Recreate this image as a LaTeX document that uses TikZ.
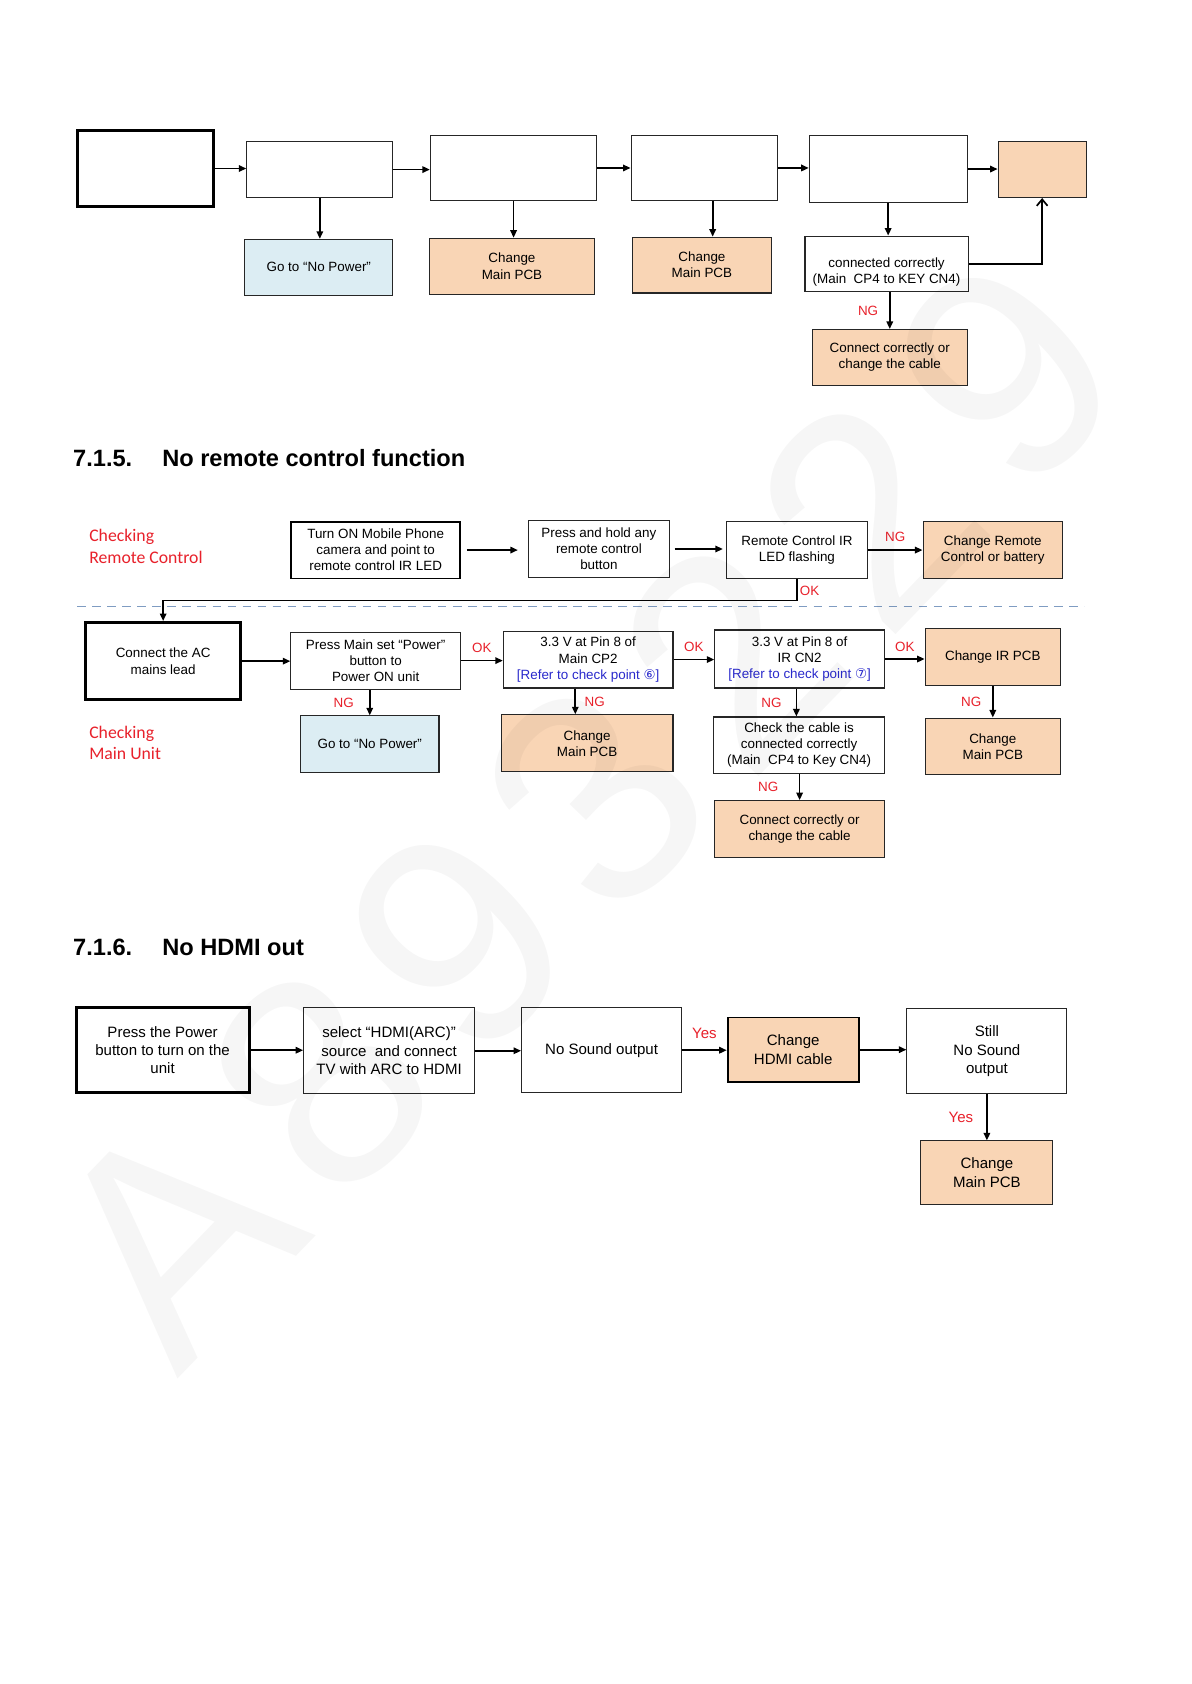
\documentclass[tikz,border=0pt]{standalone}
\usepackage{fontspec}
\setmainfont{Liberation Sans}
\newfontfamily\calfont{Carlito}
\newfontfamily\symfont{DejaVu Sans}
\newfontfamily\wmfont[LetterSpace=10]{Liberation Sans}
\usepackage{xcolor}
\usepackage{tikz}
\usetikzlibrary{arrows.meta, positioning}
\definecolor{peach}{HTML}{F9D5B5}
\definecolor{paleblue}{HTML}{DCEDF3}
\definecolor{tagred}{HTML}{E8212B}
\definecolor{refblue}{HTML}{2A2ACC}
\definecolor{sepblue}{HTML}{7F9CC2}
\newcommand{\flowfont}{\fontsize{12.5}{15}\selectfont}
\newcommand{\hdmifont}{\fontsize{14}{17}\selectfont}
\tikzstyle{box} = [rectangle, draw=black!85, line width=1pt, fill=white, align=center, inner sep=1pt, font=\flowfont]
\tikzstyle{heavybox} = [box, line width=2.8pt, draw=black]
\tikzstyle{midbox} = [box, line width=1.8pt, draw=black]
\tikzstyle{change} = [box, fill=peach]
\tikzstyle{goto} = [box, fill=paleblue]
\tikzstyle{plain} = [align=center, inner sep=0pt, font=\flowfont]
\tikzstyle{arrow} = [line width=1.6pt, -{Triangle[length=7pt,width=6pt]}]
\tikzstyle{tag} = [text=tagred, font=\flowfont, inner sep=0pt]
\tikzstyle{yestag} = [tag, font=\hdmifont]
\tikzstyle{side} = [text=tagred, font={\calfont\fontsize{16.5}{20}\selectfont}, align=left, anchor=west, inner sep=0pt]
\tikzstyle{heading} = [font={\fontsize{22}{26}\selectfont\bfseries}, anchor=west, inner sep=0pt]
\tikzstyle{sepline} = [sepblue, line width=1.2pt, dash pattern=on 8pt off 6pt]
\tikzstyle{wmark} = [font={\wmfont\fontsize{280}{280}\selectfont}, text=black, text opacity=0.035, inner sep=0pt]

\begin{document}
\begin{tikzpicture}[x=1pt, y=-1pt]
\path [use as bounding box, fill=white] (0,0) rectangle (1110,1569);

% Top part (end of previous chart)
\node (t1) [heavybox, minimum width=127pt, minimum height=70pt] at (135.5,157) {};
\node (t2) [box, minimum width=136pt, minimum height=52pt] at (298,158) {};
\node (t3) [box, minimum width=155pt, minimum height=61pt] at (478.5,156.5) {};
\node (t4) [box, minimum width=136pt, minimum height=61pt] at (656,156.5) {};
\node (t5) [box, minimum width=147pt, minimum height=63pt] at (827.5,157.5) {};
\node (t6) [change, minimum width=82pt, minimum height=52pt] at (971,158) {};
\node (nopw1) [goto, minimum width=138pt, minimum height=52pt] at (297,249) {Go to “No Power”};
\node (pcb1) [change, minimum width=154pt, minimum height=52pt] at (477,248) {Change\\Main PCB};
\node (pcb2) [change, minimum width=130pt, minimum height=52pt] at (654,247) {Change\\Main PCB};
\node (cable1) [box, minimum width=152pt, minimum height=52pt] at (826,246) {};
\node (cable1txt) [plain] at (826,253.5) {connected correctly\\(Main\ \ CP4 to KEY CN4)};
\node (fix1) [change, minimum width=144pt, minimum height=52pt] at (829,333) {Connect correctly or\\change the cable};

\draw [arrow] (t1.east) -- (t1.east -| t2.west);
\draw [arrow] (t2.east) -- (t2.east -| t3.west);
\draw [arrow] (t3.east) -- (t3.east -| t4.west);
\draw [arrow] (t4.east) -- (t4.east -| t5.west);
\draw [arrow] (t5.east) -- (t5.east -| t6.west);
\draw [arrow] (t2.south) -- (t2.south |- nopw1.north);
\draw [arrow] (t3.south) -- (t3.south |- pcb1.north);
\draw [arrow] ([xshift=8pt]t4.south) -- ([xshift=8pt]t4.south |- pcb2.north);
\draw [arrow] (t5.south) -- (t5.south |- cable1.north);
\draw [arrow] (fix1.north |- cable1.south) -- (fix1.north) node [tag, midway, left=10pt] {NG};
\draw [line width=1.6pt, -{Straight Barb[length=6pt,width=10pt]}] (cable1.east) -| (t6.south);

% 7.1.5 No remote control function
\node (num715) [heading] at (68,427) {7.1.5.};
\node (ttl715) [heading] at (151,427) {No remote control function};

% Checking remote control
\node (side1) [side] at (83,509) {Checking\\Remote Control};
\node (phone) [midbox, minimum width=158pt, minimum height=53pt] at (350,512.5) {Turn ON Mobile Phone\\camera and point to\\remote control IR LED};
\node (hold) [box, minimum width=132pt, minimum height=53pt] at (558,511.5) {Press and hold any\\remote control\\button};
\node (irled) [box, minimum width=131pt, minimum height=53pt] at (742.5,512.5) {Remote Control IR\\LED flashing};
\node (newrc) [change, minimum width=130pt, minimum height=53pt] at (925,512.5) {Change Remote\\Control or battery};

\draw [arrow, shorten <=5pt, shorten >=9pt] (phone.east) -- (phone.east -| hold.west);
\draw [arrow, shorten <=4pt, shorten >=3pt] (hold.east) -- (hold.east -| irled.west);
\draw [arrow] (irled.east) -- (irled.east -| newrc.west) node [tag, midway, above=7pt] {NG};

\draw [sepline] (72,565) -- (1010,565);

% Checking main unit
\node (side2) [side] at (83,692) {Checking\\Main Unit};
\node (acmain) [heavybox, minimum width=144pt, minimum height=72pt] at (152,616) {Connect the AC\\mains lead};
\node (setpw) [box, minimum width=158pt, minimum height=53pt] at (350,615.5) {Press Main set “Power”\\button to\\Power ON unit};
\node (cp2) [box, minimum width=158pt, minimum height=53pt] at (548,614.5) {3.3 V at Pin 8 of\\Main CP2\\\textcolor{refblue}{[Refer to check point {\symfont ⑥}]}};
\node (cn2) [box, minimum width=158pt, minimum height=54pt] at (745,614) {3.3 V at Pin 8 of\\IR CN2\\\textcolor{refblue}{[Refer to check point {\symfont ⑦}]}};
\node (irpcb) [change, minimum width=126pt, minimum height=53pt] at (925,612.5) {Change IR PCB};
\node (nopw2) [goto, minimum width=129pt, minimum height=53pt] at (344.5,693.5) {Go to “No Power”};
\node (pcb3) [change, minimum width=160pt, minimum height=53pt] at (547,692.5) {Change\\Main PCB};
\node (cable2) [box, minimum width=159pt, minimum height=53pt] at (744.5,694.5) {Check the cable is\\connected correctly\\(Main\ \ CP4 to Key CN4)};
\node (pcb4) [change, minimum width=126pt, minimum height=53pt] at (925,695.5) {Change\\Main PCB};
\node (fix2) [change, minimum width=158pt, minimum height=53pt] at (745,772.5) {Connect correctly or\\change the cable};

\draw [arrow] (irled.south) -- ++(0,20) node [tag, pos=0.55, right=2pt] {OK} -| (acmain.north);
\draw [arrow] (acmain.east) -- (acmain.east -| setpw.west);
\draw [arrow] (setpw.east) -- (setpw.east -| cp2.west) node [tag, midway, above=7pt] {OK};
\draw [arrow] (cp2.east) -- (cp2.east -| cn2.west) node [tag, midway, above=7pt] {OK};
\draw [arrow] (cn2.east) -- (cn2.east -| irpcb.west) node [tag, midway, above=6pt] {OK};
\draw [arrow] (nopw2.north |- setpw.south) -- (nopw2.north) node [tag, midway, left=14pt] {NG};
\draw [arrow] ([xshift=-12pt]cp2.south) -- ([xshift=-12pt]cp2.south |- pcb3.north) node [tag, midway, right=8pt] {NG};
\draw [arrow] ([xshift=-3pt]cn2.south) -- ([xshift=-3pt]cn2.south |- cable2.north) node [tag, midway, left=13pt] {NG};
\draw [arrow] (irpcb.south) -- (irpcb.south |- pcb4.north) node [tag, midway, left=10pt] {NG};
\draw [arrow] (fix2.north |- cable2.south) -- (fix2.north) node [tag, midway, left=19pt] {NG};

% 7.1.6 No HDMI out
\node (num716) [heading] at (68,883) {7.1.6.};
\node (ttl716) [heading] at (151,883) {No HDMI out};

\node (pwron) [heavybox, font=\hdmifont, minimum width=161pt, minimum height=79pt] at (151.5,978.5) {Press the Power\\button to turn on the\\unit};
\node (arcsrc) [box, font=\hdmifont, minimum width=159pt, minimum height=80pt] at (362.5,979) {select “HDMI(ARC)”\\source\ \ and connect\\TV with ARC to HDMI};
\node (nosnd) [box, font=\hdmifont, minimum width=149pt, minimum height=79pt] at (560.5,978.5) {No Sound output};
\node (hdmic) [change, line width=1.8pt, draw=black, font=\hdmifont, minimum width=122pt, minimum height=60pt] at (739,978) {Change\\HDMI cable};
\node (still) [box, font=\hdmifont, minimum width=149pt, minimum height=79pt] at (919.5,979.5) {Still\\No Sound\\output};
\node (pcb5) [change, font=\hdmifont, minimum width=123pt, minimum height=59pt] at (919.5,1092.5) {Change\\Main PCB};

\draw [arrow] (pwron.east) -- (pwron.east -| arcsrc.west);
\draw [arrow] (arcsrc.east) -- (arcsrc.east -| nosnd.west);
\draw [arrow] (nosnd.east) -- (nosnd.east -| hdmic.west) node [yestag, midway, above=10pt] {Yes};
\draw [arrow] (hdmic.east) -- (hdmic.east -| still.west);
\draw [arrow] (still.south) -- (still.south |- pcb5.north) node [yestag, midway, left=12pt] {Yes};

% watermark
\node (wm) [wmark, rotate=46, anchor=base west] at (165,1285) {A893229};

\end{tikzpicture}
\end{document}
